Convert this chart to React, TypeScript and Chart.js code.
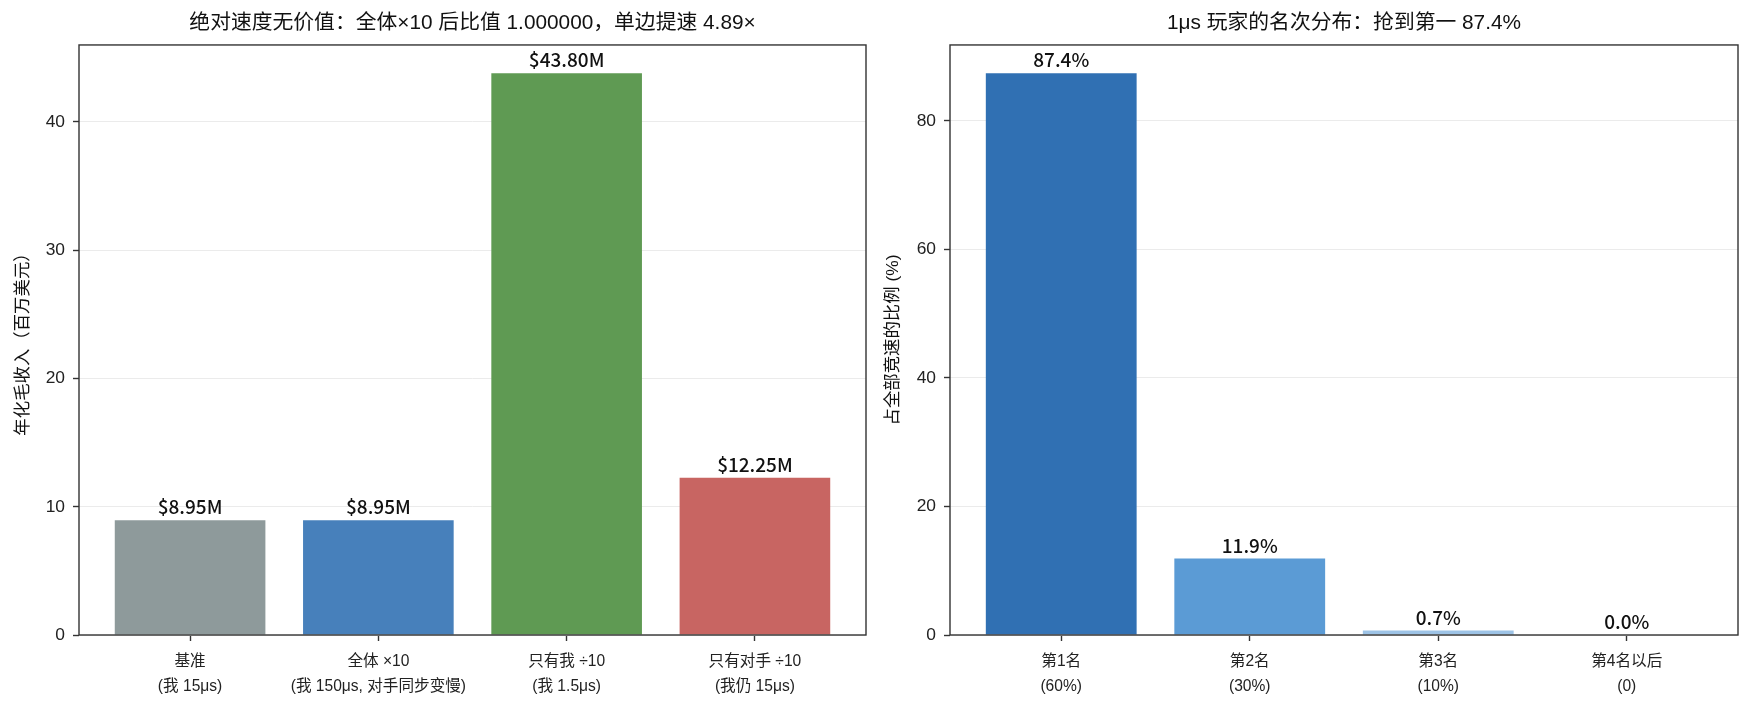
import { useEffect, useRef } from 'react';
import { Chart, registerables } from 'chart.js';

Chart.register(...registerables);

const FONT = '"Liberation Sans", "Noto Sans CJK SC", sans-serif';
const LABEL_FONT = '"Noto Sans CJK SC", "Liberation Sans", sans-serif';

// left panel: revenue per scenario (million USD)
const scenarioLabels = [
    ['基准', '(我 15μs)'],
    ['全体 ×10', '(我 150μs, 对手同步变慢)'],
    ['只有我 ÷10', '(我 1.5μs)'],
    ['只有对手 ÷10', '(我仍 15μs)'],
];
const revenueM = [8.95, 8.95, 43.8, 12.25];
const revenueColors = ['#8e9a9b', '#4780bb', '#5f9a53', '#c86562'];
const revenueTicks = [0, 10, 20, 30, 40];

// right panel: rank distribution of the 1μs player (%)
const rankLabels = [
    ['第1名', '(60%)'],
    ['第2名', '(30%)'],
    ['第3名', '(10%)'],
    ['第4名以后', '(0)'],
];
const rankShare = [87.4, 11.9, 0.7, 0.0];
const rankColors = ['#3070b3', '#5b9bd5', '#9dc3e6', '#c6dbef'];
const rankTicks = [0, 20, 40, 60, 80];

const framePlugin = {
    id: 'frame',
    afterDraw(chart: any) {
        const { ctx, chartArea: a } = chart;
        ctx.save();
        ctx.strokeStyle = '#333333';
        ctx.lineWidth = 1.4;
        ctx.strokeRect(a.left, a.top, a.right - a.left, a.bottom - a.top);
        ctx.restore();
    },
};

const barTextPlugin = {
    id: 'barText',
    afterDatasetsDraw(chart: any, _args: any, opts: any) {
        const { ctx } = chart;
        const meta = chart.getDatasetMeta(0);
        ctx.save();
        ctx.fillStyle = '#111111';
        ctx.font = `500 19px ${LABEL_FONT}`;
        ctx.textAlign = 'center';
        ctx.textBaseline = 'alphabetic';
        meta.data.forEach((bar: any, i: number) => {
            ctx.fillText(opts.texts[i], bar.x, bar.y - 6);
        });
        ctx.restore();
    },
};

type PanelProps = {
    title: string;
    yTitle: string;
    labels: string[][];
    values: number[];
    texts: string[];
    colors: string[];
    ticks: number[];
    yMax: number;
    yAxisWidth: number;
    yTitlePad: number;
    rightPad: number;
};

function BarPanel(p: PanelProps) {
    const canvasRef = useRef<HTMLCanvasElement>(null);

    useEffect(() => {
        if (!canvasRef.current) return;
        const chart = new Chart(canvasRef.current as any, {
            type: 'bar',
            data: {
                datasets: [{
                    data: p.values.map((y, i) => ({ x: i, y })),
                    backgroundColor: p.colors,
                    borderWidth: 0,
                    barPercentage: 0.8,
                    categoryPercentage: 1,
                }],
            },
            options: {
                animation: false,
                responsive: true,
                maintainAspectRatio: false,
                layout: { padding: { left: 0, right: p.rightPad, top: 0, bottom: 0 } },
                scales: {
                    x: {
                        type: 'linear',
                        min: -0.59,
                        max: 3.59,
                        offset: false,
                        afterBuildTicks: (s: any) => { s.ticks = p.labels.map((_, i) => ({ value: i })); },
                        afterFit: (s: any) => { s.height = 78; },
                        ticks: {
                            callback: (v: any) => p.labels[v],
                            color: '#222222',
                            font: { family: FONT, size: 15.6, lineHeight: 1.55 },
                            padding: 9,
                            maxRotation: 0,
                            autoSkip: false,
                        },
                        grid: { offset: false, drawOnChartArea: false, tickColor: '#333333', tickLength: 6, tickWidth: 1.4 },
                        border: { display: false },
                    },
                    y: {
                        min: 0,
                        max: p.yMax,
                        afterBuildTicks: (s: any) => { s.ticks = p.ticks.map((v) => ({ value: v })); },
                        afterFit: (s: any) => { s.width = p.yAxisWidth; },
                        ticks: {
                            color: '#222222',
                            font: { family: FONT, size: 17.4 },
                            padding: 8,
                        },
                        grid: { color: '#ebebeb', lineWidth: 1, tickColor: '#333333', tickLength: 6, tickWidth: 1.4 },
                        border: { display: false },
                        title: {
                            display: true,
                            text: p.yTitle,
                            color: '#111111',
                            font: { family: FONT, size: 17.4 },
                            padding: { top: p.yTitlePad, bottom: 0 },
                        },
                    },
                },
                plugins: {
                    legend: { display: false },
                    tooltip: { enabled: false },
                    title: {
                        display: true,
                        text: p.title,
                        fullSize: false,
                        color: '#111111',
                        font: { family: FONT, size: 20.8, weight: 'normal', lineHeight: 1.2 },
                        padding: { top: 11, bottom: 9 },
                    },
                    barText: { texts: p.texts },
                } as any,
            },
            plugins: [framePlugin, barTextPlugin],
        });
        return () => chart.destroy();
    }, []);

    return <canvas ref={canvasRef}></canvas>;
}

export default function App() {
    return (
        <div style={{ position: 'fixed', left: 0, top: 0, width: 1751, height: 713, background: '#ffffff' }}>
            <div style={{ position: 'absolute', left: 0, top: 0, width: 875, height: 713 }}>
                <BarPanel
                    title="绝对速度无价值：全体×10 后比值 1.000000，单边提速 4.89×"
                    yTitle="年化毛收入（百万美元）"
                    labels={scenarioLabels}
                    values={revenueM}
                    texts={revenueM.map((v) => `$${v.toFixed(2)}M`)}
                    colors={revenueColors}
                    ticks={revenueTicks}
                    yMax={46.0}
                    yAxisWidth={79}
                    yTitlePad={13}
                    rightPad={9}
                />
            </div>
            <div style={{ position: 'absolute', left: 875, top: 0, width: 876, height: 713 }}>
                <BarPanel
                    title="1μs 玩家的名次分布：抢到第一 87.4%"
                    yTitle="占全部竞速的比例 (%)"
                    labels={rankLabels}
                    values={rankShare}
                    texts={rankShare.map((v) => `${v.toFixed(1)}%`)}
                    colors={rankColors}
                    ticks={rankTicks}
                    yMax={91.8}
                    yAxisWidth={75}
                    yTitlePad={8}
                    rightPad={13}
                />
            </div>
        </div>
    );
}
